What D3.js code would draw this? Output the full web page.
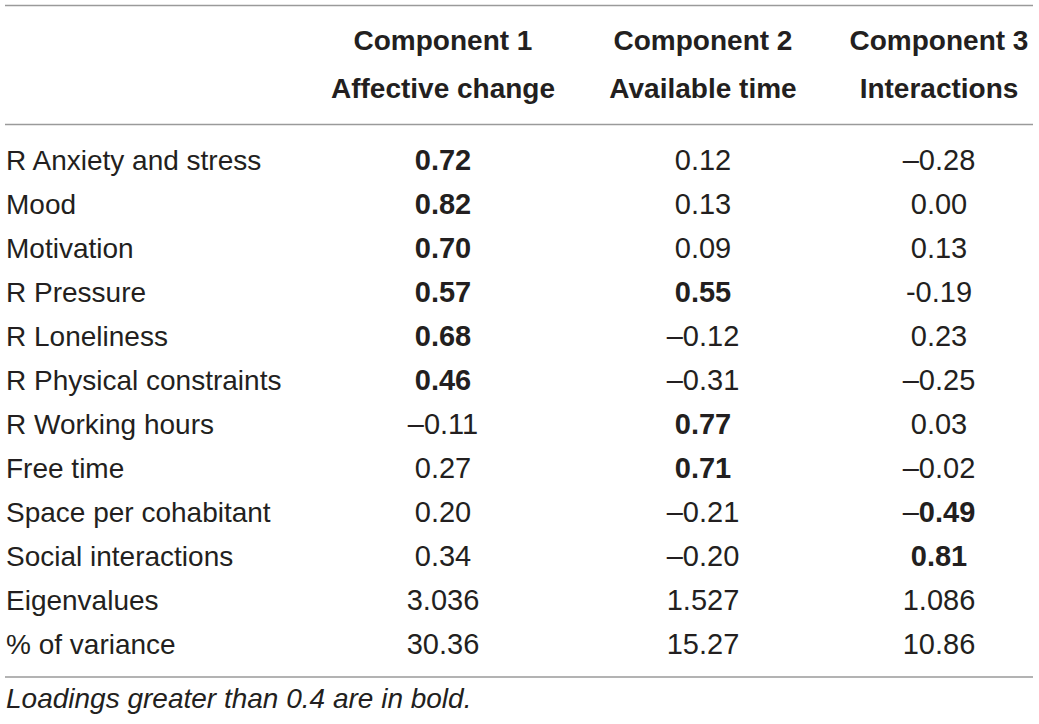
<!DOCTYPE html>
<html>
<head>
<meta charset="utf-8">
<script src="https://cdn.jsdelivr.net/npm/d3@7"></script>
<style>
  html, body { margin: 0; padding: 0; background: #fff; }
  svg { display: block; }
  text { font-family: "Liberation Sans", Arial, Helvetica, sans-serif; fill: #231f20; }
</style>
</head>
<body>
<svg id="chart" width="1039" height="724"></svg>
<script>
// ---- data ----
const headerLine1 = ["Component 1", "Component 2", "Component 3"];
const headerLine2 = ["Affective change", "Available time", "Interactions"];
const rowLabels = [
  "R Anxiety and stress", "Mood", "Motivation", "R Pressure", "R Loneliness",
  "R Physical constraints", "R Working hours", "Free time", "Space per cohabitant",
  "Social interactions", "Eigenvalues", "% of variance"
];
const comp1 = ["0.72", "0.82", "0.70", "0.57", "0.68", "0.46", "–0.11", "0.27", "0.20", "0.34", "3.036", "30.36"];
const comp2 = ["0.12", "0.13", "0.09", "0.55", "–0.12", "–0.31", "0.77", "0.71", "–0.21", "–0.20", "1.527", "15.27"];
const comp3 = ["–0.28", "0.00", "0.13", "-0.19", "0.23", "–0.25", "0.03", "–0.02", "–0.49", "0.81", "1.086", "10.86"];
const loadingRows = 10; // rows that hold loadings (bold if |value| > 0.4)
const footnote = "Loadings greater than 0.4 are in bold.";

// ---- layout ----
const svg = d3.select("#chart");
const fontSize = 28;
const numSize = 29;
const columns = [comp1, comp2, comp3];

const y = d3.scalePoint().domain(d3.range(rowLabels.length)).range([170, 654]);
const x = d3.scaleOrdinal().domain([0, 1, 2]).range([443, 703, 939]);

// rules
const rules = [5.5, 124.5, 677];
svg.selectAll("line.rule").data(rules).join("line")
  .attr("class", "rule")
  .attr("x1", 5).attr("x2", 1033)
  .attr("y1", d => d).attr("y2", d => d)
  .attr("stroke", "#9a9a9a").attr("stroke-width", 1.6);

// headers
svg.selectAll("text.h1").data(headerLine1).join("text")
  .attr("class", "h1")
  .attr("x", (d, i) => x(i)).attr("y", 50)
  .attr("text-anchor", "middle")
  .attr("font-size", fontSize).attr("font-weight", "bold")
  .text(d => d);
svg.selectAll("text.h2").data(headerLine2).join("text")
  .attr("class", "h2")
  .attr("x", (d, i) => x(i)).attr("y", 98)
  .attr("text-anchor", "middle")
  .attr("font-size", fontSize).attr("font-weight", "bold")
  .text(d => d);

// row labels
svg.selectAll("text.lab").data(rowLabels).join("text")
  .attr("class", "lab")
  .attr("x", 6).attr("y", (d, i) => y(i))
  .attr("font-size", fontSize)
  .text(d => d);

// cells
const parse = s => +s.replace("–", "-");
columns.forEach((col, ci) => {
  col.forEach((s, ri) => {
    const t = svg.append("text")
      .attr("x", x(ci)).attr("y", y(ri))
      .attr("text-anchor", "middle")
      .attr("font-size", numSize);
    const v = parse(s);
    const bold = ri < loadingRows && Math.abs(v) > 0.4;
    if (bold && v < 0) {
      t.append("tspan").text(s.charAt(0));
      t.append("tspan").attr("font-weight", "bold").text(s.slice(1));
    } else {
      t.attr("font-weight", bold ? "bold" : "normal").text(s);
    }
  });
});

// footnote
svg.append("text")
  .attr("x", 6).attr("y", 708)
  .attr("font-size", fontSize).attr("font-style", "italic")
  .text(footnote);
</script>
</body>
</html>
